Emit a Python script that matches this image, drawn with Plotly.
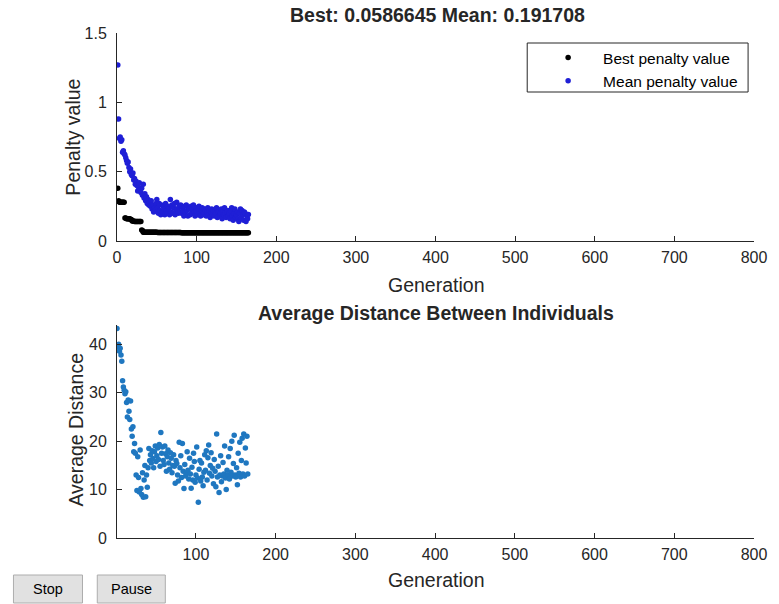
import plotly.graph_objects as go

# ---------------- data ----------------
generations = list(range(1, 166))

best_penalty = [
    0.38,
    0.29, 0.28, 0.28, 0.28, 0.28, 0.28, 0.28, 0.28,
    0.165, 0.165, 0.16, 0.16, 0.16, 0.16, 0.16, 0.155, 0.155,
    0.145, 0.145, 0.145, 0.14, 0.14, 0.14, 0.14, 0.14, 0.14, 0.14, 0.14, 0.14,
    0.08, 0.075,
    0.0625, 0.0625, 0.0625, 0.0625, 0.0625, 0.0625, 0.0625, 0.0625, 0.0625,
    0.0625, 0.0625, 0.0625, 0.0625, 0.0625, 0.0625, 0.0625, 0.0625, 0.0625,
    0.061, 0.061, 0.061, 0.061, 0.061, 0.061, 0.061, 0.061, 0.061, 0.061,
    0.061, 0.061, 0.061, 0.061, 0.061, 0.061, 0.061, 0.061, 0.061, 0.061,
    0.061, 0.061, 0.061, 0.061, 0.061, 0.061, 0.061, 0.061, 0.061, 0.061,
    0.060, 0.060, 0.060, 0.060, 0.060, 0.060, 0.060, 0.060, 0.060, 0.060,
    0.060, 0.060, 0.060, 0.060, 0.060, 0.060, 0.060, 0.060, 0.060, 0.060,
    0.060, 0.060, 0.060, 0.060, 0.060, 0.060, 0.060, 0.060, 0.060, 0.060,
    0.060, 0.060, 0.060, 0.060, 0.060, 0.060, 0.060, 0.060, 0.060, 0.060,
    0.0592, 0.0592, 0.0592, 0.0592, 0.0592, 0.0592, 0.0592, 0.0592, 0.0592, 0.0592,
    0.0592, 0.0592, 0.0592, 0.0592, 0.0592, 0.0592, 0.0592, 0.0592, 0.0592, 0.0592,
    0.0592, 0.0592, 0.0592, 0.0592, 0.0592, 0.0592, 0.0592, 0.0592, 0.0592, 0.0592,
    0.0587, 0.0587, 0.0587, 0.0587, 0.0587, 0.0587, 0.0587, 0.0587, 0.0587, 0.0587,
    0.0587, 0.0587, 0.0587, 0.0587, 0.0586645,
]

mean_penalty = [
    1.27, 0.88, 0.74, 0.75, 0.72, 0.73, 0.64, 0.65, 0.63, 0.62,
    0.60, 0.58, 0.56, 0.57, 0.53, 0.50, 0.52, 0.48, 0.47, 0.49,
    0.44, 0.45, 0.41, 0.43, 0.40, 0.36, 0.39, 0.42, 0.37, 0.35,
    0.38, 0.33, 0.41, 0.31, 0.34, 0.29, 0.32, 0.27, 0.30, 0.26,
    0.28, 0.25, 0.29, 0.23, 0.26, 0.21, 0.24, 0.22, 0.27, 0.30,
    0.24, 0.20, 0.27, 0.22, 0.19, 0.26, 0.21, 0.25, 0.23, 0.19,
    0.27, 0.22, 0.20, 0.25, 0.23, 0.19, 0.30, 0.21, 0.26, 0.20,
    0.24, 0.27, 0.19, 0.22, 0.28, 0.23, 0.20, 0.25, 0.21, 0.26,
    0.20, 0.24, 0.22, 0.18, 0.25, 0.21, 0.26, 0.22, 0.18, 0.24,
    0.23, 0.19, 0.25, 0.20, 0.23, 0.26, 0.21, 0.18, 0.22, 0.24,
    0.19, 0.23, 0.25, 0.20, 0.18, 0.22, 0.24, 0.19, 0.21, 0.23,
    0.22, 0.18, 0.21, 0.24, 0.19, 0.22, 0.17, 0.21, 0.23, 0.19,
    0.22, 0.18, 0.21, 0.20, 0.24, 0.17, 0.21, 0.22, 0.18, 0.20,
    0.23, 0.16, 0.21, 0.19, 0.24, 0.20, 0.17, 0.21, 0.22, 0.18,
    0.20, 0.16, 0.22, 0.24, 0.18, 0.15, 0.20, 0.23, 0.17, 0.19,
    0.21, 0.16, 0.14, 0.20, 0.23, 0.17, 0.22, 0.19, 0.15, 0.21,
    0.20, 0.14, 0.18, 0.16, 0.191708,
]

avg_distance = [
    43.3, 39.5, 40.0, 38.6, 39.2, 37.8, 36.5, 32.5, 31.2, 30.5,
    29.8, 30.2, 28.0, 25.0, 28.5, 26.2, 24.5, 28.3, 22.5, 21.0,
    23.0, 17.8, 19.5, 17.5, 13.0, 9.8, 16.8, 12.5, 9.5, 18.2,
    10.2, 9.0, 13.5, 8.4, 12.0, 15.0, 8.5, 13.0, 10.5, 14.5,
    18.5, 16.0, 17.2, 15.5, 18.0, 16.4, 14.5, 17.8, 19.0, 15.8,
    17.0, 18.6, 16.2, 19.3, 14.8, 21.8, 17.5, 18.8, 16.0, 15.2,
    19.0, 17.4, 13.8, 16.8, 18.2, 15.5, 14.2, 17.6, 16.5, 13.5,
    15.0, 17.2, 14.8, 11.3, 16.0, 15.4, 13.0, 11.8, 19.8, 14.5,
    17.0, 12.5, 19.5, 13.8, 10.2, 15.2, 12.8, 13.5, 17.8, 14.0,
    12.2, 16.5, 13.2, 10.3, 14.6, 12.0, 17.5, 15.8, 11.5, 13.0,
    18.8, 12.4, 7.4, 14.2, 16.0, 11.8, 15.5, 12.6, 10.8, 13.6,
    17.2, 14.0, 18.0, 12.0, 16.6, 19.2, 13.4, 15.0, 17.6, 12.8,
    14.4, 11.2, 16.2, 13.8, 10.6, 21.5, 12.6, 14.8, 9.4, 13.0,
    17.0, 11.6, 12.8, 15.6, 13.2, 19.0, 12.4, 10.0, 14.0, 13.0,
    16.8, 12.2, 18.5, 13.6, 20.0, 12.8, 15.4, 21.2, 13.0, 12.6,
    14.5, 11.0, 17.5, 13.4, 19.8, 12.6, 16.0, 20.6, 13.2, 21.5,
    12.8, 18.6, 15.5, 21.0, 13.2,
]

gen_ticks = [0, 100, 200, 300, 400, 500, 600, 700, 800]
gen_ticks_bottom = [100, 200, 300, 400, 500, 600, 700, 800]
penalty_ticks = [0, 0.5, 1, 1.5]
penalty_tick_text = ["0", "0.5", "1", "1.5"]
distance_ticks = [0, 10, 20, 30, 40]

title_top = "Best: 0.0586645 Mean: 0.191708"
title_bottom = "Average Distance Between Individuals"

# ---------------- layout geometry (pixels) ----------------
W, H = 779, 604
L, R, T, B = 117, 16, 33, 66
PW, PH = W - L - R, H - T - B


def px(x):
    return (x - L) / PW


def py(y):
    return (H - B - y) / PH


FONT = "Liberation Sans, Arial, sans-serif"
AX = "#262626"
LABEL_SIZE = 19.5

fig = go.Figure()
fig.add_trace(go.Scatter(x=generations, y=best_penalty, mode="markers",
                         name="Best penalty value",
                         marker=dict(color="black", size=5.5),
                         xaxis="x", yaxis="y"))
fig.add_trace(go.Scatter(x=generations, y=mean_penalty, mode="markers",
                         name="Mean penalty value",
                         marker=dict(color="#1f1fd6", size=5.5),
                         xaxis="x", yaxis="y"))
fig.add_trace(go.Scatter(x=generations, y=avg_distance, mode="markers",
                         showlegend=False,
                         marker=dict(color="#1f77c0", size=5.5),
                         xaxis="x2", yaxis="y2"))

axis_common = dict(showline=True, linecolor=AX, linewidth=1, ticks="inside",
                   ticklen=5, tickcolor=AX, showgrid=False, zeroline=False,
                   mirror=False, tickfont=dict(family=FONT, size=16, color=AX))

fig.update_layout(
    width=W, height=H,
    margin=dict(l=L, r=R, t=T, b=B),
    paper_bgcolor="white", plot_bgcolor="white",
    font=dict(family=FONT, color=AX),
    xaxis=dict(domain=[0, 1], range=[0, 800], tickvals=gen_ticks, anchor="y",
               ticklabelstandoff=2, **axis_common),
    yaxis=dict(domain=[py(241), 1], range=[0, 1.5], tickvals=penalty_ticks,
               ticktext=penalty_tick_text, anchor="x", ticklabelstandoff=6,
               **axis_common),
    xaxis2=dict(domain=[0, 1], range=[1, 800], tickvals=gen_ticks_bottom,
                anchor="y2", ticklabelstandoff=2, **axis_common),
    yaxis2=dict(domain=[0, py(325)], range=[0, 44], tickvals=distance_ticks,
                anchor="x2", ticklabelstandoff=6, **axis_common),
    showlegend=True,
    legend=dict(x=px(539), y=py(41), xanchor="left", yanchor="top",
                bgcolor="rgba(0,0,0,0)", borderwidth=0,
                font=dict(family=FONT, size=15.5, color="black"),
                itemwidth=60, tracegroupgap=0),
)

annotations = [
    dict(text="<b>" + title_top + "</b>", x=px(442), y=py(15)),
    dict(text="<b>" + title_bottom + "</b>", x=px(441), y=py(313)),
    dict(text="Generation", x=px(440), y=py(285)),
    dict(text="Generation", x=px(440), y=py(580)),
    dict(text="Penalty value", x=px(72), y=py(137), angle=-90),
    dict(text="Average Distance", x=px(75), y=py(430), angle=-90),
    dict(text="Stop", x=px(47), y=py(589), size=14.5, color="black"),
    dict(text="Pause", x=px(132), y=py(589), size=14.5, color="black"),
]
for a in annotations:
    fig.add_annotation(text=a["text"], x=a["x"], y=a["y"], xref="paper",
                       yref="paper", showarrow=False, xanchor="center",
                       yanchor="middle", textangle=a.get("angle", 0),
                       font=dict(family=FONT, size=a.get("size", LABEL_SIZE),
                                 color=a.get("color", AX)))

# legend box and buttons
fig.add_shape(type="rect", xref="paper", yref="paper",
              x0=px(533), x1=px(757), y0=py(92), y1=py(43),
              line=dict(color=AX, width=1), fillcolor="rgba(0,0,0,0)")
for x0, x1 in [(12, 82), (97, 166)]:
    fig.add_shape(type="rect", xref="paper", yref="paper",
                  x0=px(x0), x1=px(x1), y0=py(603), y1=py(575),
                  line=dict(color="#adadad", width=1), fillcolor="#e1e1e1",
                  layer="below")

fig.write_html("out.html")
